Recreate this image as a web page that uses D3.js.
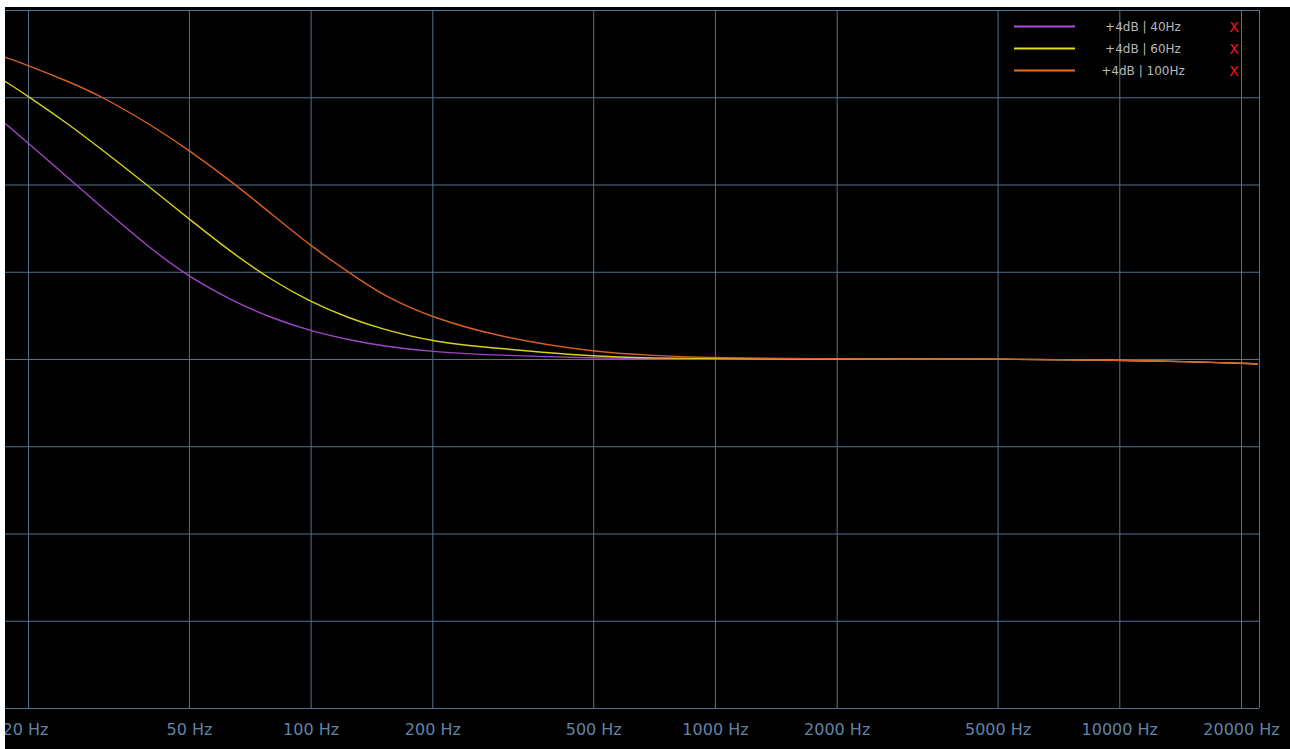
<!DOCTYPE html>
<head>
<meta charset="utf-8">
<title>Low shelf response</title>
<script src="https://d3js.org/d3.v7.min.js"></script>
<style>
body { margin: 0; background: #fff; }
svg { display: block; }
.grid line { stroke: #52728f; stroke-width: 1; }
.xaxis text { fill: #5f84a8; font-family: "DejaVu Sans", sans-serif; font-size: 16px; }
.legend text { font-family: "DejaVu Sans", sans-serif; }
</style>
</head>
<body>
<div id="container"></div>
<script>
//---------------------------DATA-----------------------------//
const freqs = [17.5, 20, 25, 30, 40, 50, 65, 80, 100, 125, 150, 200, 300, 500, 700, 1000, 2000, 5000, 9000, 15000, 20000, 22000];
const gain40 = [2.705, 2.476, 2.086, 1.765, 1.272, 0.940, 0.653, 0.470, 0.321, 0.218, 0.149, 0.080, 0.040, 0.011, 0.003, 0, 0, 0, -0.01, -0.03, -0.05, -0.055];
const gain60 = [3.186, 3.014, 2.702, 2.424, 1.971, 1.605, 1.192, 0.905, 0.653, 0.464, 0.344, 0.195, 0.115, 0.029, 0.011, 0.004, 0, 0, -0.01, -0.03, -0.05, -0.055];
const gain100 = [3.461, 3.366, 3.186, 3.026, 2.693, 2.395, 2.006, 1.662, 1.295, 0.986, 0.734, 0.470, 0.241, 0.080, 0.040, 0.011, 0, 0, -0.01, -0.03, -0.05, -0.055];
const seriesLabels = ["+4dB | 40Hz", "+4dB | 60Hz", "+4dB | 100Hz"];
const seriesColors = ["#a044c8", "#d8d21e", "#d8601f"];
const legendColors = ["#b44ee0", "#e2dc22", "#ec6a22"];
const xTicks = [20, 50, 100, 200, 500, 1000, 2000, 5000, 10000, 20000];
const yTicks = [-4, -3, -2, -1, 0, 1, 2, 3, 4];

//---------------------------SVG------------------------------//
const width = 1290;
const height = 749;
const plotLeft = 5, plotRight = 1259, plotTop = 10, plotBottom = 708;

const svg = d3.select("#container").append("svg")
    .attr("width", width)
    .attr("height", height);

svg.append("rect")
    .attr("x", 5).attr("y", 7)
    .attr("width", width - 5).attr("height", height - 7)
    .attr("fill", "#000");

//--------------------------SCALES----------------------------//
const xScale = d3.scaleLog().domain([20, 20000]).range([28, 1241]);
const yScale = d3.scaleLinear().domain([-4, 4]).range([plotBottom, plotTop]);

//---------------------------GRID-----------------------------//
svg.append("g")
    .attr("class", "grid")
    .selectAll("line")
    .data(yTicks)
    .join("line")
    .attr("x1", plotLeft)
    .attr("x2", plotRight)
    .attr("y1", d => yScale(d) + 0.5)
    .attr("y2", d => yScale(d) + 0.5);

const xaxis = d3.axisBottom(xScale)
    .tickValues(xTicks)
    .tickFormat(d => d + " Hz")
    .tickSize(-(plotBottom - plotTop));

const gx = svg.append("g")
    .attr("class", "xaxis grid")
    .attr("transform", "translate(0," + plotBottom + ")")
    .call(xaxis);
gx.select(".domain").remove();
gx.selectAll(".tick line").attr("stroke", null);
gx.selectAll(".tick text").attr("y", 27).attr("dy", 0).attr("fill", null);
// first label sits slightly left, partly cut by the edge
gx.selectAll(".tick text").filter(d => d === 20).attr("x", -3);

// right border of the plot
svg.append("g").attr("class", "grid")
    .append("line")
    .attr("x1", plotRight + 0.5).attr("x2", plotRight + 0.5)
    .attr("y1", plotTop).attr("y2", plotBottom);

//---------------------------LINES----------------------------//
svg.append("clipPath").attr("id", "plotclip")
    .append("rect")
    .attr("x", plotLeft).attr("y", plotTop)
    .attr("width", plotRight - plotLeft).attr("height", plotBottom - plotTop);

const line = d3.line()
    .x(d => xScale(d.f))
    .y(d => yScale(d.g))
    .curve(d3.curveBasis);

const slices = [gain40, gain60, gain100].map((g, i) => ({
    id: seriesLabels[i],
    color: seriesColors[i],
    values: freqs.map((f, j) => ({f: f, g: g[j]}))
}));

svg.append("g")
    .attr("clip-path", "url(#plotclip)")
    .selectAll("path")
    .data(slices)
    .join("path")
    .attr("fill", "none")
    .attr("stroke", d => d.color)
    .attr("stroke-width", 1.4)
    .attr("d", d => line(d.values));

//--------------------------LEGEND----------------------------//
const legend = svg.append("g").attr("class", "legend")
    .selectAll("g")
    .data(seriesLabels)
    .join("g")
    .attr("transform", (d, i) => "translate(0," + (26 + i * 22) + ")");

legend.append("line")
    .attr("x1", 1014).attr("x2", 1075)
    .attr("y1", 0.5).attr("y2", 0.5)
    .attr("stroke", (d, i) => legendColors[i])
    .attr("stroke-width", 2);

legend.append("text")
    .attr("x", 1143).attr("y", 4.5)
    .attr("text-anchor", "middle")
    .attr("fill", "#b8b8b8")
    .style("font-size", "12px")
    .text(d => d);

legend.append("text")
    .attr("x", 1234).attr("y", 6)
    .attr("text-anchor", "middle")
    .attr("fill", "#ff1010")
    .style("font-size", "14px")
    .text("X");

// white strips at the left and top edges
svg.append("rect").attr("x", 0).attr("y", 0).attr("width", 5).attr("height", height).attr("fill", "#fff");
svg.append("rect").attr("x", 0).attr("y", 0).attr("width", width).attr("height", 7).attr("fill", "#fff");
</script>
</body>
